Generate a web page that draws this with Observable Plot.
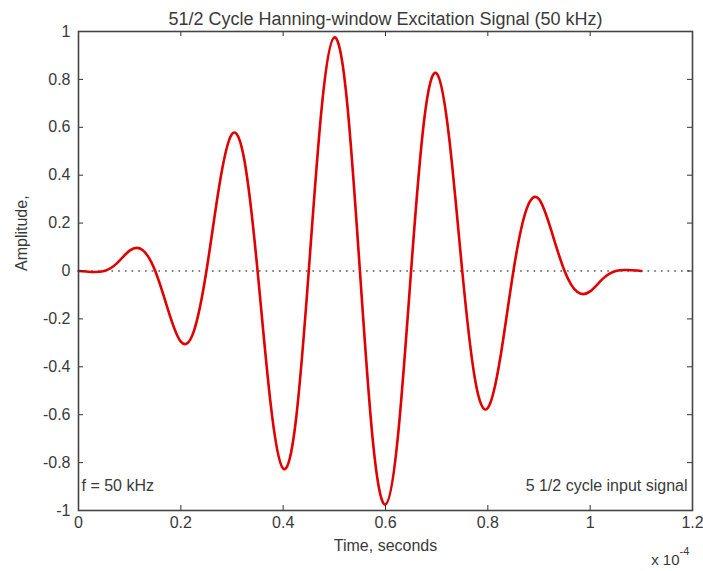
<!DOCTYPE html>
<html>
<head>
<meta charset="utf-8">
<script src="https://cdn.jsdelivr.net/npm/d3@7"></script>
<script src="https://cdn.jsdelivr.net/npm/@observablehq/plot@0.6"></script>
<style>
  html, body { margin: 0; padding: 0; background: #fff; }
  svg { font-family: "Liberation Sans", Arial, sans-serif; }
</style>
</head>
<body>
<div id="chart"></div>
<script>
// Time in units of 1e-4 s, amplitude
const time = [0, 0.025, 0.05, 0.075, 0.1, 0.125, 0.15, 0.175, 0.2, 0.225,
  0.25, 0.275, 0.3, 0.325, 0.35, 0.375, 0.4, 0.425, 0.45, 0.475,
  0.5, 0.525, 0.55, 0.575, 0.6, 0.625, 0.65, 0.675, 0.7, 0.725,
  0.75, 0.775, 0.8, 0.825, 0.85, 0.875, 0.9, 0.925, 0.95, 0.975,
  1.0, 1.025, 1.05, 1.075, 1.1];
const amplitude = [0, -0.004, 0, 0.032, 0.085, 0.088, 0, -0.162, -0.295, -0.254,
  0, 0.354, 0.572, 0.453, 0, -0.545, -0.825, -0.621, 0, 0.675,
  0.975, 0.703, 0, -0.703, -0.975, -0.675, 0, 0.621, 0.825, 0.545,
  0, -0.453, -0.572, -0.354, 0, 0.254, 0.300, 0.162, 0, -0.088,
  -0.085, -0.032, 0, 0.004, 0];
const xTicks = [0, 0.2, 0.4, 0.6, 0.8, 1, 1.2];
const yTicks = [-1, -0.8, -0.6, -0.4, -0.2, 0, 0.2, 0.4, 0.6, 0.8, 1];
const titleText = "51/2 Cycle Hanning-window Excitation Signal (50 kHz)";
const xLabel = "Time, seconds";
const yLabel = "Amplitude,";
const noteLeft = "f = 50 kHz";
const noteRight = "5 1/2 cycle input signal";

const data = time.map((t, i) => ({t, a: amplitude[i]}));

const W = 703, H = 571;
const mL = 78, mR = 11, mT = 31, mB = 61;
const plotH = H - mT - mB;
const plotW = W - mL - mR;
const tickLen = 5;
const textCol = "#3a3a3a";
const fmt = d => String(d);

const chart = Plot.plot({
  width: W,
  height: H,
  marginLeft: mL,
  marginRight: mR,
  marginTop: mT,
  marginBottom: mB,
  style: {background: "#fff", color: textCol, fontFamily: "'Liberation Sans', Arial, sans-serif"},
  x: {domain: [0, 1.2]},
  y: {domain: [-1, 1]},
  marks: [
    Plot.ruleY([0], {stroke: "#555", strokeWidth: 1.6, strokeDasharray: "1.6,5.1"}),
    Plot.line(data, {x: "t", y: "a", stroke: "#e00000", strokeWidth: 2.6, curve: "natural"}),
    // inward ticks on all four sides
    Plot.tickX(xTicks, {x: d => d, insetTop: plotH - tickLen, stroke: "#333"}),
    Plot.tickX(xTicks, {x: d => d, insetBottom: plotH - tickLen, stroke: "#333"}),
    Plot.tickY(yTicks, {y: d => d, insetRight: plotW - tickLen, stroke: "#333"}),
    Plot.tickY(yTicks, {y: d => d, insetLeft: plotW - tickLen, stroke: "#333"}),
    Plot.frame({stroke: "#444", strokeWidth: 1.6}),
    Plot.axisX(xTicks, {tickSize: 0, tickPadding: 6, fontSize: 16, label: null, fill: textCol, tickFormat: fmt}),
    Plot.axisY(yTicks, {tickSize: 0, tickPadding: 8, fontSize: 16, label: null, fill: textCol, tickFormat: fmt}),
    Plot.text([titleText], {frameAnchor: "top", dy: -19, fontSize: 18, fill: textCol}),
    Plot.text([xLabel], {frameAnchor: "bottom", dy: 40, fontSize: 16, fill: textCol}),
    Plot.text([yLabel], {frameAnchor: "left", dx: -57, rotate: -90, fontSize: 16, fill: textCol}),
    Plot.text(["x 10"], {frameAnchor: "bottom-right", dx: -13, dy: 54, textAnchor: "end", fontSize: 15, fill: textCol}),
    Plot.text(["-4"], {frameAnchor: "bottom-right", dx: -13, dy: 44, textAnchor: "start", fontSize: 11, fill: textCol}),
    Plot.text([noteLeft], {frameAnchor: "bottom-left", dx: 3, dy: -20, textAnchor: "start", fontSize: 16, fill: textCol}),
    Plot.text([noteRight], {frameAnchor: "bottom-right", dx: -5, dy: -20, textAnchor: "end", fontSize: 16, fill: textCol})
  ]
});
document.getElementById("chart").appendChild(chart);
</script>
</body>
</html>
